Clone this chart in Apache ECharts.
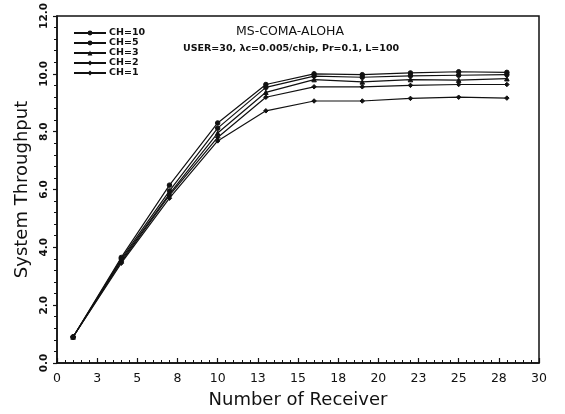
<!DOCTYPE html>
<html><head><meta charset="utf-8">
<script src="https://cdn.jsdelivr.net/npm/echarts@6/dist/echarts.min.js"></script>
<style>html,body{margin:0;padding:0;background:#fff}#c{width:565px;height:414px}</style>
</head><body><div id="c"></div>
<script>
const receivers = [1, 4, 7, 10, 13, 16, 19, 22, 25, 28];
const ch10 = [0.9, 3.65, 6.15, 8.3, 9.63, 10.0, 9.97, 10.03, 10.07, 10.05];
const ch5  = [0.9, 3.6, 5.95, 8.12, 9.53, 9.92, 9.88, 9.93, 9.95, 9.97];
const ch3  = [0.9, 3.55, 5.85, 7.95, 9.36, 9.8, 9.72, 9.8, 9.78, 9.83];
const ch2  = [0.9, 3.5, 5.8, 7.8, 9.19, 9.55, 9.55, 9.6, 9.63, 9.63];
const ch1  = [0.9, 3.45, 5.7, 7.68, 8.72, 9.06, 9.06, 9.15, 9.19, 9.16];
const seriesNames = ['CH=10', 'CH=5', 'CH=3', 'CH=2', 'CH=1'];
const seriesSymbols = ['circle', 'circle', 'triangle', 'diamond', 'diamond'];
const xTickLabels = ['0','3','5','8','10','13','15','18','20','23','25','28','30'];
const yTickLabels = ['0.0','2.0','4.0','6.0','8.0','10.0','12.0'];

const allData = [ch10, ch5, ch3, ch2, ch1];
const font = '"DejaVu Sans", sans-serif';
const chart = echarts.init(document.getElementById('c'));
chart.setOption({
  animation: false,
  backgroundColor: '#fff',
  title: [
    { text: 'MS-COMA-ALOHA', left: 231, top: 20, textStyle: { fontFamily: font, fontSize: 12.5, fontWeight: 'normal', color: '#111' } },
    { text: 'USER=30, λc=0.005/chip, Pr=0.1, L=100', left: 178, top: 39, textStyle: { fontFamily: font, fontSize: 9.5, fontWeight: 'bold', color: '#111' } }
  ],
  legend: {
    orient: 'vertical', left: 68, top: 23, itemGap: 0, itemWidth: 32, itemHeight: 6,
    textStyle: { fontFamily: font, fontSize: 9.5, fontWeight: 'bold', color: '#111', padding: [0,0,0,-2] },
    data: seriesNames
  },
  grid: { left: 57, right: 26, top: 14, bottom: 42, show: true, borderColor: '#111', borderWidth: 1.5, backgroundColor: 'transparent' },
  xAxis: {
    type: 'value', min: 0, max: 30, interval: 2.5,
    name: 'Number of Receiver', nameLocation: 'middle', nameGap: 28,
    nameTextStyle: { fontFamily: font, fontSize: 18, color: '#111' },
    axisLine: { lineStyle: { color: '#111', width: 1.5 } },
    axisTick: { inside: true, length: 5, lineStyle: { color: '#111', width: 1.2 } },
    minorTick: { show: true, splitNumber: 5, length: 3, lineStyle: { color: '#111', width: 1 } },
    splitLine: { show: false },
    axisLabel: { margin: 9, fontFamily: font, fontSize: 12.5, color: '#111', formatter: (v, i) => xTickLabels[i] }
  },
  yAxis: {
    type: 'value', min: 0, max: 12, interval: 2,
    name: 'System Throughput', nameLocation: 'middle', nameGap: 26,
    nameTextStyle: { fontFamily: font, fontSize: 18, color: '#111' },
    axisLine: { lineStyle: { color: '#111', width: 1.5 } },
    axisTick: { inside: false, length: 4, lineStyle: { color: '#111', width: 1.2 } },
    minorTick: { show: true, splitNumber: 5, length: 3, lineStyle: { color: '#111', width: 1 } },
    splitLine: { show: false },
    axisLabel: { rotate: 90, margin: 7, fontFamily: font, fontSize: 10.5, fontWeight: 'bold', color: '#111', formatter: (v, i) => yTickLabels[i] }
  },
  series: seriesNames.map((n, k) => ({
    name: n, type: 'line',
    data: receivers.map((x, i) => [x, allData[k][i]]),
    symbol: seriesSymbols[k], symbolSize: 4.5, showSymbol: true,
    lineStyle: { color: '#111', width: 1.2 },
    itemStyle: { color: '#111', borderColor: '#111' }
  }))
});
</script></body></html>
